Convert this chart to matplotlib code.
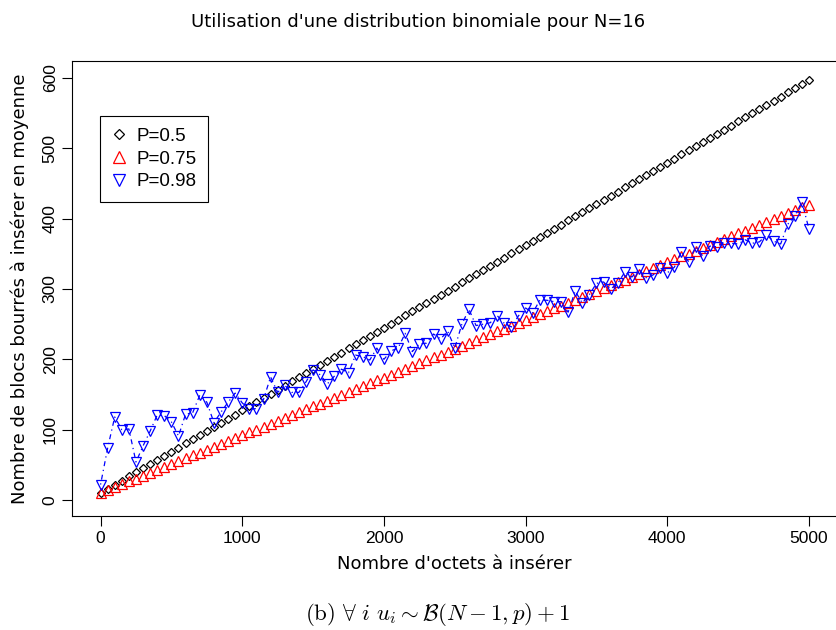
import matplotlib
matplotlib.use("Agg")
import matplotlib.pyplot as plt

# x: number of bytes to insert (step 50)
octets = list(range(0, 5001, 50))

p05 = [10.0, 15.9, 21.7, 27.6, 33.5, 39.4, 45.2, 51.1, 57.0, 62.8,
       68.7, 74.6, 80.4, 86.3, 92.2, 98.1, 103.9, 109.8, 115.7, 121.5,
       127.4, 133.3, 139.1, 145.0, 150.9, 156.8, 162.6, 168.5, 174.4, 180.2,
       186.1, 192.0, 197.8, 203.7, 209.6, 215.5, 221.3, 227.2, 233.1, 238.9,
       244.8, 250.7, 256.5, 262.4, 268.3, 274.2, 280.0, 285.9, 291.8, 297.6,
       303.5, 309.4, 315.2, 321.1, 327.0, 332.9, 338.7, 344.6, 350.5, 356.3,
       362.2, 368.1, 373.9, 379.8, 385.7, 391.6, 397.4, 403.3, 409.2, 415.0,
       420.9, 426.8, 432.6, 438.5, 444.4, 450.3, 456.1, 462.0, 467.9, 473.7,
       479.6, 485.5, 491.3, 497.2, 503.1, 509.0, 514.8, 520.7, 526.6, 532.4,
       538.3, 544.2, 550.0, 555.9, 561.8, 567.7, 573.5, 579.4, 585.3, 591.1,
       597.0]

p075 = [10.0, 14.1, 18.2, 22.3, 26.4, 30.5, 34.6, 38.7, 42.8, 46.9,
        51.0, 55.1, 59.2, 63.3, 67.4, 71.5, 75.6, 79.7, 83.8, 87.9,
        92.0, 96.1, 100.2, 104.3, 108.4, 112.5, 116.6, 120.7, 124.8, 128.9,
        133.0, 137.1, 141.2, 145.3, 149.4, 153.5, 157.6, 161.7, 165.8, 169.9,
        174.0, 178.1, 182.2, 186.3, 190.4, 194.5, 198.6, 202.7, 206.8, 210.9,
        215.0, 219.1, 223.2, 227.3, 231.4, 235.5, 239.6, 243.7, 247.8, 251.9,
        256.0, 260.1, 264.2, 268.3, 272.4, 276.5, 280.6, 284.7, 288.8, 292.9,
        297.0, 301.1, 305.2, 309.3, 313.4, 317.5, 321.6, 325.7, 329.8, 333.9,
        338.0, 342.1, 346.2, 350.3, 354.4, 358.5, 362.6, 366.7, 370.8, 374.9,
        379.0, 383.1, 387.2, 391.3, 395.4, 399.5, 403.6, 407.7, 411.8, 415.9,
        420.0]

p098 = [22, 74, 118, 100, 101, 54, 77, 98, 121, 120,
        111, 91, 122, 124, 149, 139, 110, 125, 139, 152,
        138, 129, 130, 143, 175, 153, 163, 153, 153, 168,
        185, 178, 165, 176, 186, 181, 206, 204, 199, 216,
        200, 212, 216, 237, 211, 222, 223, 236, 229, 240,
        216, 250, 271, 248, 250, 252, 262, 251, 246, 262,
        273, 266, 284, 284, 282, 282, 267, 297, 280, 292,
        308, 310, 300, 308, 324, 317, 328, 316, 320, 330,
        323, 331, 353, 339, 360, 347, 361, 360, 366, 365,
        364, 370, 365, 367, 377, 368, 364, 392, 404, 424,
        385]

labels = ["P=0.5", "P=0.75", "P=0.98"]

plt.rcParams['mathtext.fontset'] = 'cm'

fig = plt.figure(figsize=(8.36, 6.3), dpi=100)
ax = fig.add_axes([0.0864, 0.181, 0.9152, 0.7227])

ax.plot(octets, p05, linestyle='none', marker='D', markersize=4.0,
        markerfacecolor='none', markeredgecolor='black', markeredgewidth=0.9,
        label=labels[0])
ax.plot(octets, p075, linestyle='none', marker='^', markersize=7,
        markerfacecolor='none', markeredgecolor='red', markeredgewidth=0.9,
        label=labels[1])
ax.plot(octets, p098, color='blue', linewidth=0.9, dashes=(1, 3, 4, 3),
        marker='v', markersize=7, markerfacecolor='none',
        markeredgecolor='blue', markeredgewidth=0.9, label=labels[2])

ax.set_xlim(-200, 5200)
ax.set_ylim(-22.7, 624.6)
ax.set_xticks([0, 1000, 2000, 3000, 4000, 5000])
ax.set_yticks([0, 100, 200, 300, 400, 500, 600])
ax.tick_params(length=7, width=0.8, labelsize=12.5)
for lab in ax.get_xticklabels() + ax.get_yticklabels():
    lab.set_family('Liberation Sans')
for lab in ax.get_yticklabels():
    lab.set_rotation(90)
    lab.set_va('center')

ax.set_xlabel("Nombre d'octets à insérer", fontsize=13, labelpad=7)
ax.set_ylabel("Nombre de blocs bourrés à insérer en moyenne", fontsize=13, labelpad=10)

fig.text(0.5, 1 - 22 / 630, "Utilisation d'une distribution binomiale pour N=16",
         ha='center', va='center', fontsize=13)

leg = ax.legend(loc='upper left', bbox_to_anchor=(100 / 836, 1 - 116 / 630),
                bbox_transform=fig.transFigure, borderaxespad=0,
                fancybox=False, edgecolor='black', framealpha=1,
                prop={'family': 'Liberation Sans', 'size': 13.5},
                handlelength=0.75, handletextpad=0.55, labelspacing=0.3,
                borderpad=0.62, markerscale=1.15)
for h in leg.legend_handles:
    h.set_linestyle('none')
leg.get_frame().set_linewidth(0.8)

fig.text(438 / 836, 1 - 614 / 630,
         r"$\mathrm{(b)}\ \forall\ i\ u_i \sim \mathcal{B}(N-1,p)+1$",
         ha='center', va='center', fontsize=16.5)

fig.savefig('out.png', dpi=100)
